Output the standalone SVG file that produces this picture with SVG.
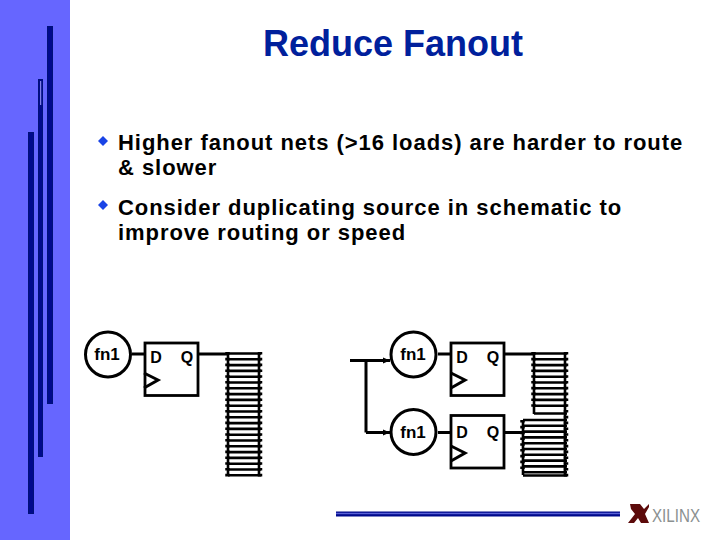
<svg xmlns="http://www.w3.org/2000/svg" width="720" height="540" viewBox="0 0 720 540">
<defs>
<style>
text{font-family:"Liberation Sans",Arial,sans-serif;font-weight:bold;fill:#000}
.title{font-size:36px;fill:#00209c;text-anchor:middle}
.body{font-size:22px;letter-spacing:.95px}
.lab{font-size:17px;text-anchor:middle}
.pin{font-size:16px;text-anchor:middle}
.w{fill:none;stroke:#000;stroke-width:3}
.t{fill:none;stroke:#000;stroke-width:2.6}
.bump{fill:none;stroke:#000;stroke-width:4.500;stroke-dasharray:2.600 3.200}
.bar{fill:#000a8c;stroke:#00107a;stroke-width:1}
.n{fill:#fff;stroke:#000;stroke-width:3}
.ff{fill:#fff;stroke:#000;stroke-width:2.800}
.clk{fill:none;stroke:#000;stroke-width:3}
</style>
<marker id="ah" markerUnits="userSpaceOnUse" markerWidth="8" markerHeight="8" refX="7" refY="4" orient="auto"><path d="M0 1L7 4L0 7Z" fill="#000"/></marker>
</defs>
<rect width="720" height="540" fill="#fff"/>
<rect width="70" height="540" fill="#6666ff"/>
<g id="decor">
<rect class="bar" x="47.500" y="26.500" width="5" height="377"/>
<rect class="bar" x="38.500" y="79.500" width="4" height="377"/>
<rect x="40" y="81" width="1.200" height="24" fill="#8080e8"/>
<rect class="bar" x="28.500" y="132.500" width="5" height="381"/>
<rect x="336" y="511.500" width="284" height="5" fill="#000a8c"/>
<rect x="336" y="512.800" width="284" height="1.400" fill="#5a62d8"/>
</g>
<g id="heading"><text class="title" x="393" y="56">Reduce Fanout</text></g>
<g id="bullets">
<path d="M103 136L108 141L103 146L98 141Z" fill="#1a44e6"/>
<text class="body" x="118" y="150">Higher fanout nets (&gt;16 loads) are harder to route</text>
<text class="body" x="118" y="175">&amp; slower</text>
<path d="M103 200L108 205L103 210L98 205Z" fill="#1a44e6"/>
<text class="body" x="118" y="215">Consider duplicating source in schematic to</text>
<text class="body" x="118" y="240">improve routing or speed</text>
</g>
<g id="connectors">
<path class="w" d="M132 354H145M198 354H228"/>
<path class="w" d="M438 354H451M504 354H534"/>
<path class="w" d="M438 432.500H451M504 432.500H523"/>
<path class="w" d="M350 360.500H366V432.500"/>
<path class="w" d="M350 360.500H390" marker-end="url(#ah)"/>
<path class="w" d="M366 432.500H390" marker-end="url(#ah)"/>
</g>
<g id="fanout-left">
<path class="bump" d="M227.500 352V477M260 352V477"/>
<path class="t" d="M228 353V475M259 353V475"/>
<path class="t" d="M228 353.500H261M228 359.300H261M228 365.100H261M228 370.900H261M228 376.700H261M228 382.500H261M228 388.300H261M228 394.100H261M228 399.900H261M228 405.700H261M228 411.500H261M228 417.300H261M228 423.100H261M228 428.900H261M228 434.700H261M228 440.500H261M228 446.300H261M228 452.100H261M228 457.900H261M228 463.700H261M228 469.500H261M228 475.300H261"/>
</g>
<g id="fanout-right">
<path class="bump" d="M533.500 352V410M522.500 420V469M566 352V477"/>
<path class="t" d="M534 353V414M523 420V475M565 353V475"/>
<path class="t" d="M534 353.500H567M534 359.300H567M534 365.100H567M534 370.900H567M534 376.700H567M534 382.500H567M534 388.300H567M534 394.100H567M534 399.900H567M534 405.700H567M534 413.500H567M523 420H567M523 425.800H567M523 431.600H567M523 437.400H567M523 443.200H567M523 449H567M523 454.800H567M523 460.600H567M523 466.400H567M523 472.200H567M523 475.500H567"/>
</g>
<g id="fn1-a"><circle class="n" cx="108" cy="354.500" r="22.500"/><text class="lab" x="107" y="360">fn1</text></g>
<g id="ff-a"><rect class="ff" x="145" y="343" width="53" height="52.500"/><path class="clk" d="M144 373L158 380L144 388"/><text class="pin" x="156" y="363">D</text><text class="pin" x="187" y="363">Q</text></g>
<g id="fn1-b"><circle class="n" cx="413.500" cy="354.500" r="22.500"/><text class="lab" x="413" y="360">fn1</text></g>
<g id="ff-b"><rect class="ff" x="451" y="343" width="53" height="52.500"/><path class="clk" d="M451 373L465 380L451 388"/><text class="pin" x="462" y="363">D</text><text class="pin" x="493" y="363">Q</text></g>
<g id="fn1-c"><circle class="n" cx="413.500" cy="432" r="22.500"/><text class="lab" x="413" y="438">fn1</text></g>
<g id="ff-c"><rect class="ff" x="451" y="415.500" width="53" height="52.500"/><path class="clk" d="M451 446L465 453L451 461"/><text class="pin" x="462" y="438">D</text><text class="pin" x="493" y="438">Q</text></g>
<g id="logo">
<path d="M630 504H640L644 509L649 504V507L645 514L649 523H641L638 518L634 523H628L635 514L631 509Z" fill="#5c0a0a"/>
<text x="652" y="522" style="font-family:'Liberation Sans',Arial,sans-serif;font-weight:normal;font-size:19px;fill:#8a9090" textLength="48" lengthAdjust="spacingAndGlyphs">XILINX</text>
</g>
</svg>
